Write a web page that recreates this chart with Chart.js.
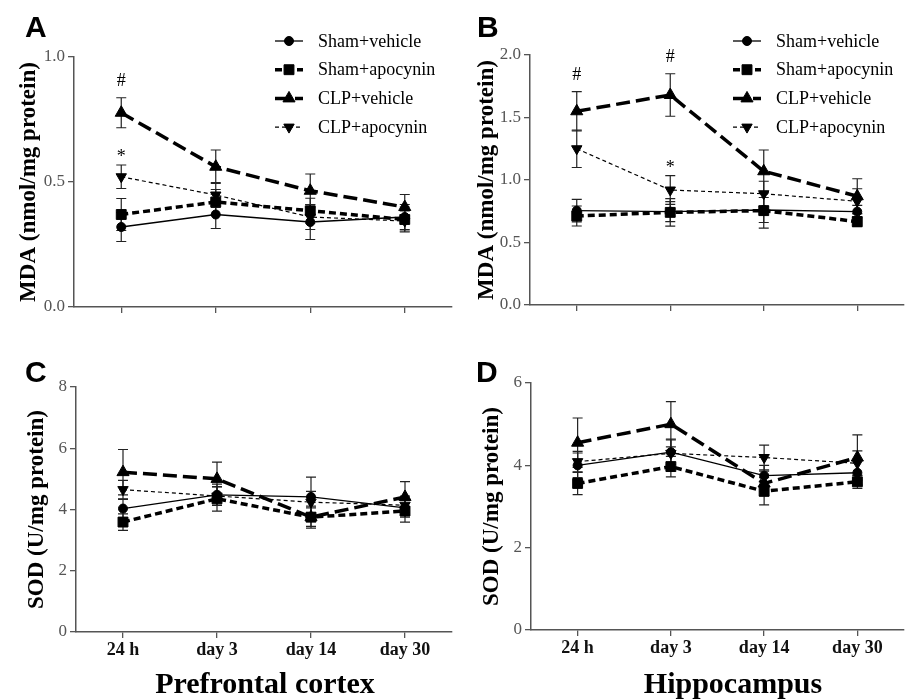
<!DOCTYPE html>
<html>
<head>
<meta charset="utf-8">
<script src="https://cdn.jsdelivr.net/npm/chart.js@4.4.1/dist/chart.umd.min.js"></script>
<style>
html,body{margin:0;padding:0;background:#fff;width:905px;height:700px;overflow:hidden;position:relative}
canvas{position:absolute}
</style>
</head>
<body>
<canvas id="cA" width="460" height="330" style="left:0;top:0"></canvas>
<canvas id="cB" width="460" height="330" style="left:452px;top:0"></canvas>
<canvas id="cC" width="460" height="370" style="left:0;top:330px"></canvas>
<canvas id="cD" width="460" height="370" style="left:452px;top:330px"></canvas>
<script>
// time points and groups
const timepoints=['24 h','day 3','day 14','day 30'];
const groups=['Sham+vehicle','Sham+apocynin','CLP+vehicle','CLP+apocynin'];

// A: MDA prefrontal cortex (mean, SEM)
const mdaPfcShamVeh=[0.32,0.37,0.34,0.36], mdaPfcShamVehErr=[0.058,0.056,0.07,0.05];
const mdaPfcShamApo=[0.37,0.42,0.385,0.35], mdaPfcShamApoErr=[0.064,0.05,0.05,0.05];
const mdaPfcClpVeh=[0.777,0.561,0.465,0.40], mdaPfcClpVehErr=[0.06,0.067,0.067,0.05];
const mdaPfcClpApo=[0.521,0.448,0.36,0.344], mdaPfcClpApoErr=[0.047,0.05,0.05,0.04];
const mdaPfcHash=['#','','',''], mdaPfcStar=['*','','',''];

// B: MDA hippocampus
const mdaHipShamVeh=[0.755,0.747,0.76,0.747], mdaHipShamVehErr=[0.09,0.08,0.1,0.05];
const mdaHipShamApo=[0.712,0.741,0.755,0.667], mdaHipShamApoErr=[0.08,0.11,0.14,0.04];
const mdaHipClpVeh=[1.55,1.68,1.07,0.87], mdaHipClpVehErr=[0.157,0.17,0.17,0.14];
const mdaHipClpApo=[1.25,0.92,0.89,0.83], mdaHipClpApoErr=[0.15,0.115,0.1,0.1];
const mdaHipHash=['#','#','',''], mdaHipStar=['','*','',''];

// C: SOD prefrontal cortex
const sodPfcShamVeh=[4.03,4.48,4.41,4.05], sodPfcShamVehErr=[0.3,0.35,0.65,0.3];
const sodPfcShamApo=[3.59,4.35,3.75,3.95], sodPfcShamApoErr=[0.27,0.4,0.36,0.36];
const sodPfcClpVeh=[5.22,5.0,3.75,4.41], sodPfcClpVehErr=[0.74,0.55,0.3,0.5];
const sodPfcClpApo=[4.65,4.44,4.24,4.14], sodPfcClpApoErr=[0.3,0.3,0.35,0.3];

// D: SOD hippocampus
const sodHipShamVeh=[4.0,4.32,3.75,3.82], sodHipShamVehErr=[0.3,0.3,0.25,0.3];
const sodHipShamApo=[3.56,3.97,3.37,3.6], sodHipShamApoErr=[0.27,0.25,0.33,0.16];
const sodHipClpVeh=[4.55,5.0,3.56,4.19], sodHipClpVehErr=[0.6,0.55,0.3,0.55];
const sodHipClpApo=[4.09,4.29,4.19,4.05], sodHipClpApoErr=[0.25,0.35,0.3,0.3];

Chart.defaults.font.family="'Liberation Serif','Times New Roman',serif";
Chart.defaults.color='#000';

const looks=[
 {borderWidth:1.3,borderDash:[],pointStyle:'circle',pointRadius:4.5,pointRotation:0},
 {borderWidth:3.5,borderDash:[7,4],pointStyle:'rect',pointRadius:7,pointRotation:0},
 {borderWidth:3.5,borderDash:[14,6],pointStyle:'triangle',pointRadius:7,pointRotation:0},
 {borderWidth:1.2,borderDash:[4,3],pointStyle:'triangle',pointRadius:6,pointRotation:180}
];

function makeSets(vals,errs,sigs){
 return vals.map((v,i)=>Object.assign({
  label:groups[i],data:v,err:errs[i],sig:sigs[i]||null,
  borderColor:'#000',backgroundColor:'#000',pointBackgroundColor:'#000',pointBorderColor:'#000',
  pointBorderWidth:1,tension:0,fill:false
 },looks[i]));
}

const errorBars={id:'errorBars',beforeDatasetsDraw(chart){
 const ctx=chart.ctx,y=chart.scales.y;
 ctx.save();ctx.strokeStyle='#222';ctx.lineWidth=1.2;ctx.setLineDash([]);
 chart.data.datasets.forEach((ds,i)=>{
  chart.getDatasetMeta(i).data.forEach((pt,j)=>{
   const t=y.getPixelForValue(ds.data[j]+ds.err[j]),b=y.getPixelForValue(ds.data[j]-ds.err[j]);
   ctx.beginPath();ctx.moveTo(pt.x,t);ctx.lineTo(pt.x,b);
   ctx.moveTo(pt.x-5,t);ctx.lineTo(pt.x+5,t);ctx.moveTo(pt.x-5,b);ctx.lineTo(pt.x+5,b);ctx.stroke();
  });
 });
 ctx.restore();
}};

const sigMarks={id:'sigMarks',afterDatasetsDraw(chart){
 const ctx=chart.ctx,y=chart.scales.y;
 ctx.save();ctx.fillStyle='#000';ctx.font="18px 'Liberation Serif'";ctx.textAlign='center';ctx.textBaseline='alphabetic';
 chart.data.datasets.forEach((ds,i)=>{
  if(!ds.sig)return;
  chart.getDatasetMeta(i).data.forEach((pt,j)=>{
   const s=ds.sig[j];if(!s)return;
   const t=y.getPixelForValue(ds.data[j]+ds.err[j]);
   ctx.fillText(s,pt.x,t-(s==='*'?3:12));
  });
 });
 ctx.restore();
}};

const legendBox={id:'legendBox',afterDraw(chart,args,o){
 const ctx=chart.ctx;
 chart.data.datasets.forEach((ds,i)=>{
  const y=o.y+i*o.dy;
  ctx.save();
  ctx.strokeStyle='#000';ctx.lineWidth=ds.borderWidth;ctx.setLineDash(ds.borderDash);
  ctx.beginPath();ctx.moveTo(o.x,y);ctx.lineTo(o.x+28,y);ctx.stroke();
  ctx.setLineDash([]);ctx.fillStyle='#000';ctx.lineWidth=1;
  Chart.helpers.drawPoint(ctx,{pointStyle:ds.pointStyle,radius:ds.pointRadius,rotation:ds.pointRotation,borderWidth:1},o.x+14,y);
  ctx.font="18px 'Liberation Serif'";ctx.textBaseline='middle';ctx.textAlign='left';
  ctx.fillText(ds.label,o.x+43,y+1);
  ctx.restore();
 });
}};

const panelText={id:'panelText',afterDraw(chart,args,o){
 const ctx=chart.ctx;
 ctx.save();ctx.fillStyle='#000';
 ctx.font="bold 30px 'Liberation Sans'";ctx.textBaseline='alphabetic';ctx.textAlign='left';
 ctx.fillText(o.letter,o.lx,o.ly);
 if(o.region){
  ctx.font="bold 30px 'Liberation Serif'";ctx.textAlign='center';
  ctx.fillText(o.region,o.rx,o.ry);
 }
 ctx.restore();
}};

function panel(id,sets,cfg){
 new Chart(document.getElementById(id),{
  type:'line',
  data:{labels:timepoints,datasets:sets},
  plugins:[errorBars,sigMarks,legendBox,panelText],
  options:{
   responsive:false,animation:false,
   layout:{padding:{left:0,top:cfg.top,right:cfg.right,bottom:0}},
   plugins:{legend:{display:false},tooltip:{enabled:false},
    legendBox:cfg.legend||false,panelText:cfg.text},
   scales:{
    x:{type:'category',offset:true,
     grid:{display:true,drawOnChartArea:false,drawTicks:true,tickLength:6,color:'#555',lineWidth:1.3},
     border:{display:true,color:'#555',width:1.5},
     ticks:{display:cfg.xlabels,padding:2,color:'#111',font:{size:18,weight:'bold'}},
     afterFit:s=>{s.height=cfg.xh;}},
    y:{min:cfg.min,max:cfg.max,
     grid:{display:true,drawOnChartArea:false,drawTicks:true,tickLength:6,color:'#555',lineWidth:1.3},
     border:{display:true,color:'#555',width:1.5},
     ticks:{stepSize:cfg.step,padding:3,color:'#555',font:{size:17},callback:v=>cfg.dec?v.toFixed(1):v},
     title:{display:true,text:cfg.ytitle,font:{size:23,weight:'bold'},padding:{top:cfg.tpad,bottom:0}},
     afterFit:s=>{s.width=cfg.yw;}}
   }
  }
 });
}

panel('cA',makeSets([mdaPfcShamVeh,mdaPfcShamApo,mdaPfcClpVeh,mdaPfcClpApo],
 [mdaPfcShamVehErr,mdaPfcShamApoErr,mdaPfcClpVehErr,mdaPfcClpApoErr],[null,null,mdaPfcHash,mdaPfcStar]),
 {top:57,right:7,xh:23,yw:74,min:0,max:1,step:0.5,dec:true,xlabels:false,tpad:15,
  ytitle:'MDA (nmol/mg protein)',legend:{x:275,y:41,dy:28.7},text:{letter:'A',lx:25,ly:37}});

panel('cB',makeSets([mdaHipShamVeh,mdaHipShamApo,mdaHipClpVeh,mdaHipClpApo],
 [mdaHipShamVehErr,mdaHipShamApoErr,mdaHipClpVehErr,mdaHipClpApoErr],[null,null,mdaHipHash,mdaHipStar]),
 {top:55,right:1,xh:25,yw:78,min:0,max:2,step:0.5,dec:true,xlabels:false,tpad:21,
  ytitle:'MDA (nmol/mg protein)',legend:{x:281,y:41,dy:28.7},text:{letter:'B',lx:25,ly:37}});

panel('cC',makeSets([sodPfcShamVeh,sodPfcShamApo,sodPfcClpVeh,sodPfcClpApo],
 [sodPfcShamVehErr,sodPfcShamApoErr,sodPfcClpVehErr,sodPfcClpApoErr],[]),
 {top:57,right:5,xh:68,yw:76,min:0,max:8,step:2,dec:false,xlabels:true,tpad:23,
  ytitle:'SOD (U/mg protein)',text:{letter:'C',lx:25,ly:52,region:'Prefrontal cortex',rx:265,ry:363}});

panel('cD',makeSets([sodHipShamVeh,sodHipShamApo,sodHipClpVeh,sodHipClpApo],
 [sodHipShamVehErr,sodHipShamApoErr,sodHipClpVehErr,sodHipClpApoErr],[]),
 {top:53,right:1,xh:70,yw:79,min:0,max:6,step:2,dec:false,xlabels:true,tpad:26,
  ytitle:'SOD (U/mg protein)',text:{letter:'D',lx:24,ly:52,region:'Hippocampus',rx:281,ry:363}});
</script>
</body>
</html>
